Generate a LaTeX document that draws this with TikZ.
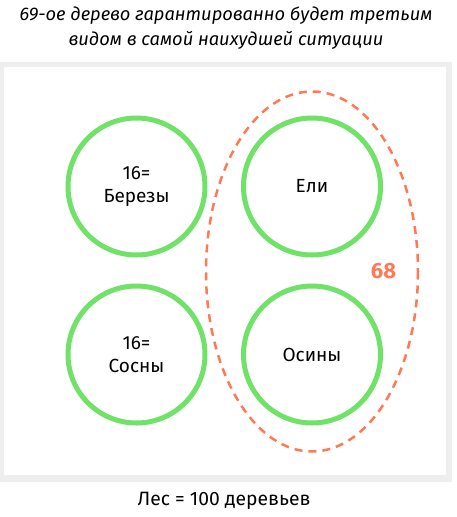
\documentclass[tikz,border=0pt]{standalone}
\usepackage{fontspec}
\setmainfont{Fira Sans}
\definecolor{treegreen}{RGB}{112,226,104}
\definecolor{coral}{RGB}{255,122,84}
\definecolor{framegray}{RGB}{238,238,238}
\begin{document}
\begin{tikzpicture}[x=1pt, y=-1pt,
    tree/.style={circle, draw=treegreen, line width=5pt, minimum size=137pt,
      inner sep=0pt, align=center, font=\fontsize{19}{22.5}\selectfont},
    worst/.style={draw=coral, line width=2.5pt, dash pattern=on 8pt off 6pt}]
  \useasboundingbox (0,0) rectangle (457,517);
  % frame
  \fill[framegray] (0,62) rectangle (452,482);
  \fill[white] (3.5,67) rectangle (446,475);
  % group
  \draw[worst] (312,271.5) ellipse (106 and 180);
  \node[text=coral, font=\fontsize{22}{24}\bfseries\selectfont] (sum) at (383.5,271) {68};
  % trees
  \node[tree] (birch) at (136.5,186.5) {16=\\Березы};
  \node[tree] (pine) at (136.5,354.5) {16=\\Сосны};
  \node[tree] (spruce) at (312,186.5) {Ели};
  \node[tree] (aspen) at (312,354.5) {Осины};
  % texts
  \node[align=center, font=\fontsize{18.3}{25}\itshape\selectfont] (title) at (226,28)
    {69-ое дерево гарантированно будет третьим\\видом в самой наихудшей ситуации};
  \node[font=\fontsize{19.3}{22}\selectfont] (forest) at (224,501) {Лес = 100 деревьев};
\end{tikzpicture}
\end{document}
